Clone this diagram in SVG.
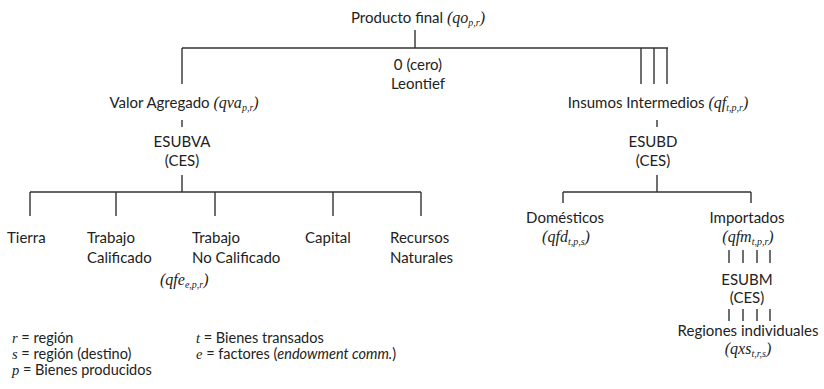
<svg xmlns="http://www.w3.org/2000/svg" width="824" height="389" viewBox="0 0 824 389">
<style>
text{font-family:Lato,"Liberation Sans",sans-serif;font-size:15px;fill:#222}
.m{font-family:"Liberation Serif",serif;font-style:italic;font-size:16px}
.s{font-family:"Liberation Serif",serif;font-style:italic;font-size:10px}
.c{text-anchor:middle}
.lg{font-size:14.5px}
.lg .m{font-size:14.5px}
.ln{stroke:#333;stroke-width:1.4;fill:none}
</style>
<g id="connectors">
<path class="ln" d="M415 30V48M182 48H668M182 48V84M641 48V84M654 48V84M667 48V84"/>
<path class="ln" d="M182 120V127M182 175V192M30 192H421M30 192V216M116 192V216M215 192V216M333 192V216M421 192V216"/>
<path class="ln" d="M657 120V127M657 175V192M563 192H751M563 192V203M751 192V203"/>
<path class="ln" d="M729 250V263M743 250V263M757 250V263M770 250V263M729 309V321M743 309V321M757 309V321M770 309V321"/>
</g>
<g id="producto"><text class="c" x="418" y="23">Producto final <tspan class="m">(qo</tspan><tspan class="s" dy="3">p,r</tspan><tspan class="m" dy="-3">)</tspan></text></g>
<g id="leontief"><text class="c" x="418" y="70">0 (cero)</text><text class="c" x="418" y="89">Leontief</text></g>
<g id="valor"><text class="c" x="184" y="108">Valor Agregado <tspan class="m">(qva</tspan><tspan class="s" dy="3">p,r</tspan><tspan class="m" dy="-3">)</tspan></text></g>
<g id="esubva"><text class="c" x="182" y="147">ESUBVA</text><text class="c" x="182" y="166">(CES)</text></g>
<g id="insumos"><text class="c" x="658" y="108">Insumos Intermedios <tspan class="m">(qf</tspan><tspan class="s" dy="3">t,p,r</tspan><tspan class="m" dy="-3">)</tspan></text></g>
<g id="esubd"><text class="c" x="653" y="147">ESUBD</text><text class="c" x="653" y="166">(CES)</text></g>
<g id="tierra"><text x="7" y="243">Tierra</text></g>
<g id="tcal"><text x="87" y="243">Trabajo</text><text x="87" y="263">Calificado</text></g>
<g id="tnocal"><text x="192" y="243">Trabajo</text><text x="192" y="263">No Calificado</text><text x="160" y="285"><tspan class="m">(qfe</tspan><tspan class="s" dy="3">e,p,r</tspan><tspan class="m" dy="-3">)</tspan></text></g>
<g id="capital"><text x="305" y="243">Capital</text></g>
<g id="recursos"><text x="390" y="243">Recursos</text><text x="390" y="263">Naturales</text></g>
<g id="domesticos"><text class="c" x="565" y="223">Domésticos</text><text class="c" x="566" y="242"><tspan class="m">(qfd</tspan><tspan class="s" dy="3">t,p,s</tspan><tspan class="m" dy="-3">)</tspan></text></g>
<g id="importados"><text class="c" x="747" y="223">Importados</text><text class="c" x="748" y="242"><tspan class="m">(qfm</tspan><tspan class="s" dy="3">t,p,r</tspan><tspan class="m" dy="-3">)</tspan></text></g>
<g id="esubm"><text class="c" x="747" y="285">ESUBM</text><text class="c" x="747" y="303">(CES)</text></g>
<g id="regiones"><text class="c" x="748" y="336">Regiones individuales</text><text class="c" x="748" y="354"><tspan class="m">(qxs</tspan><tspan class="s" dy="3">t,r,s</tspan><tspan class="m" dy="-3">)</tspan></text></g>
<g id="legend">
<text class="lg" x="12" y="343"><tspan class="m">r</tspan> = región</text>
<text class="lg" x="12" y="359"><tspan class="m">s</tspan> = región (destino)</text>
<text class="lg" x="12" y="375"><tspan class="m">p</tspan> = Bienes producidos</text>
<text class="lg" x="196" y="343"><tspan class="m">t</tspan> = Bienes transados</text>
<text class="lg" x="196" y="359"><tspan class="m">e</tspan> = factores (<tspan font-style="italic">endowment comm.</tspan>)</text>
</g>
</svg>
